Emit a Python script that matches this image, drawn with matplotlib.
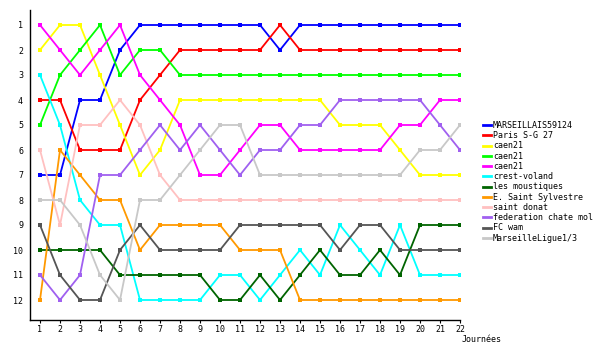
import matplotlib
matplotlib.use("Agg")
import matplotlib.pyplot as plt

days = list(range(1, 23))
day_labels = [str(d) for d in days]
rank_labels = [str(r) for r in range(1, 13)]

team_names = [
    "MARSEILLAIS59124", "Paris S-G 27", "caen21", "caen21", "caen21",
    "crest-voland", "les moustiques", "E. Saint Sylvestre", "saint donat",
    "federation chate mol", "FC wam", "MarseilleLigue1/3",
]
team_colors = [
    "#0000FF", "#FF0000", "#FFFF00", "#00FF00", "#FF00FF", "#00FFFF",
    "#006400", "#FF9900", "#FFC0C0", "#A060F0", "#555555", "#C8C8C8",
]

marseillais = [7, 7, 4, 4, 2, 1, 1, 1, 1, 1, 1, 1, 2, 1, 1, 1, 1, 1, 1, 1, 1, 1]
paris = [4, 4, 6, 6, 6, 4, 3, 2, 2, 2, 2, 2, 1, 2, 2, 2, 2, 2, 2, 2, 2, 2]
caen_a = [2, 1, 1, 3, 5, 7, 6, 4, 4, 4, 4, 4, 4, 4, 4, 5, 5, 5, 6, 7, 7, 7]
caen_b = [5, 3, 2, 1, 3, 2, 2, 3, 3, 3, 3, 3, 3, 3, 3, 3, 3, 3, 3, 3, 3, 3]
caen_c = [1, 2, 3, 2, 1, 3, 4, 5, 7, 7, 6, 5, 5, 6, 6, 6, 6, 6, 5, 5, 4, 4]
crest = [3, 5, 8, 9, 9, 12, 12, 12, 12, 11, 11, 12, 11, 10, 11, 9, 10, 11, 9, 11, 11, 11]
moustiques = [10, 10, 10, 10, 11, 11, 11, 11, 11, 12, 12, 11, 12, 11, 10, 11, 11, 10, 11, 9, 9, 9]
sylvestre = [12, 6, 7, 8, 8, 10, 9, 9, 9, 9, 10, 10, 10, 12, 12, 12, 12, 12, 12, 12, 12, 12]
donat = [6, 9, 5, 5, 4, 5, 7, 8, 8, 8, 8, 8, 8, 8, 8, 8, 8, 8, 8, 8, 8, 8]
federation = [11, 12, 11, 7, 7, 6, 5, 6, 5, 6, 7, 6, 6, 5, 5, 4, 4, 4, 4, 4, 5, 6]
fcwam = [9, 11, 12, 12, 10, 9, 10, 10, 10, 10, 9, 9, 9, 9, 9, 10, 9, 9, 10, 10, 10, 10]
marseille_l = [8, 8, 9, 11, 12, 8, 8, 7, 6, 5, 5, 7, 7, 7, 7, 7, 7, 7, 7, 6, 6, 5]

series = [marseillais, paris, caen_a, caen_b, caen_c, crest, moustiques,
          sylvestre, donat, federation, fcwam, marseille_l]

plt.rcParams['font.family'] = ['DejaVu Sans Mono']
fig = plt.figure(figsize=(6, 3.5), dpi=100)
ax = fig.add_axes([30/600, 1 - 320/350, 430/600, 310/350])

for vals, name, col in zip(series, team_names, team_colors):
    ax.plot(days, vals, color=col, lw=1.3, marker='s', markersize=2.2,
            markeredgewidth=0, label=name)

ax.set_xlim(0.5, 22)
ax.set_ylim(12.8, 0.4)
ax.set_xticks(days)
ax.set_xticklabels(day_labels, fontsize=6)
ax.set_yticks(range(1, 13))
ax.set_yticklabels(rank_labels, fontsize=6)
ax.tick_params(axis='x', length=2, pad=1.5, width=0.8)
ax.tick_params(axis='y', length=0, pad=5)
for s in ['top', 'right']:
    ax.spines[s].set_visible(False)
for s in ['left', 'bottom']:
    ax.spines[s].set_linewidth(1.0)

fig.text(462/600, 1 - 339/350, "Journées", fontsize=6, ha='left', va='center')

leg = ax.legend(loc='upper left', bbox_to_anchor=(483/600, 1 - 121/350),
                bbox_transform=fig.transFigure, frameon=False, fontsize=6,
                handlelength=0.9, handletextpad=0.3, labelspacing=0.15,
                borderpad=0, borderaxespad=0)
for h in leg.legend_handles:
    h.set_marker('')
    h.set_linewidth(2)

fig.savefig("out.png", dpi=100)
